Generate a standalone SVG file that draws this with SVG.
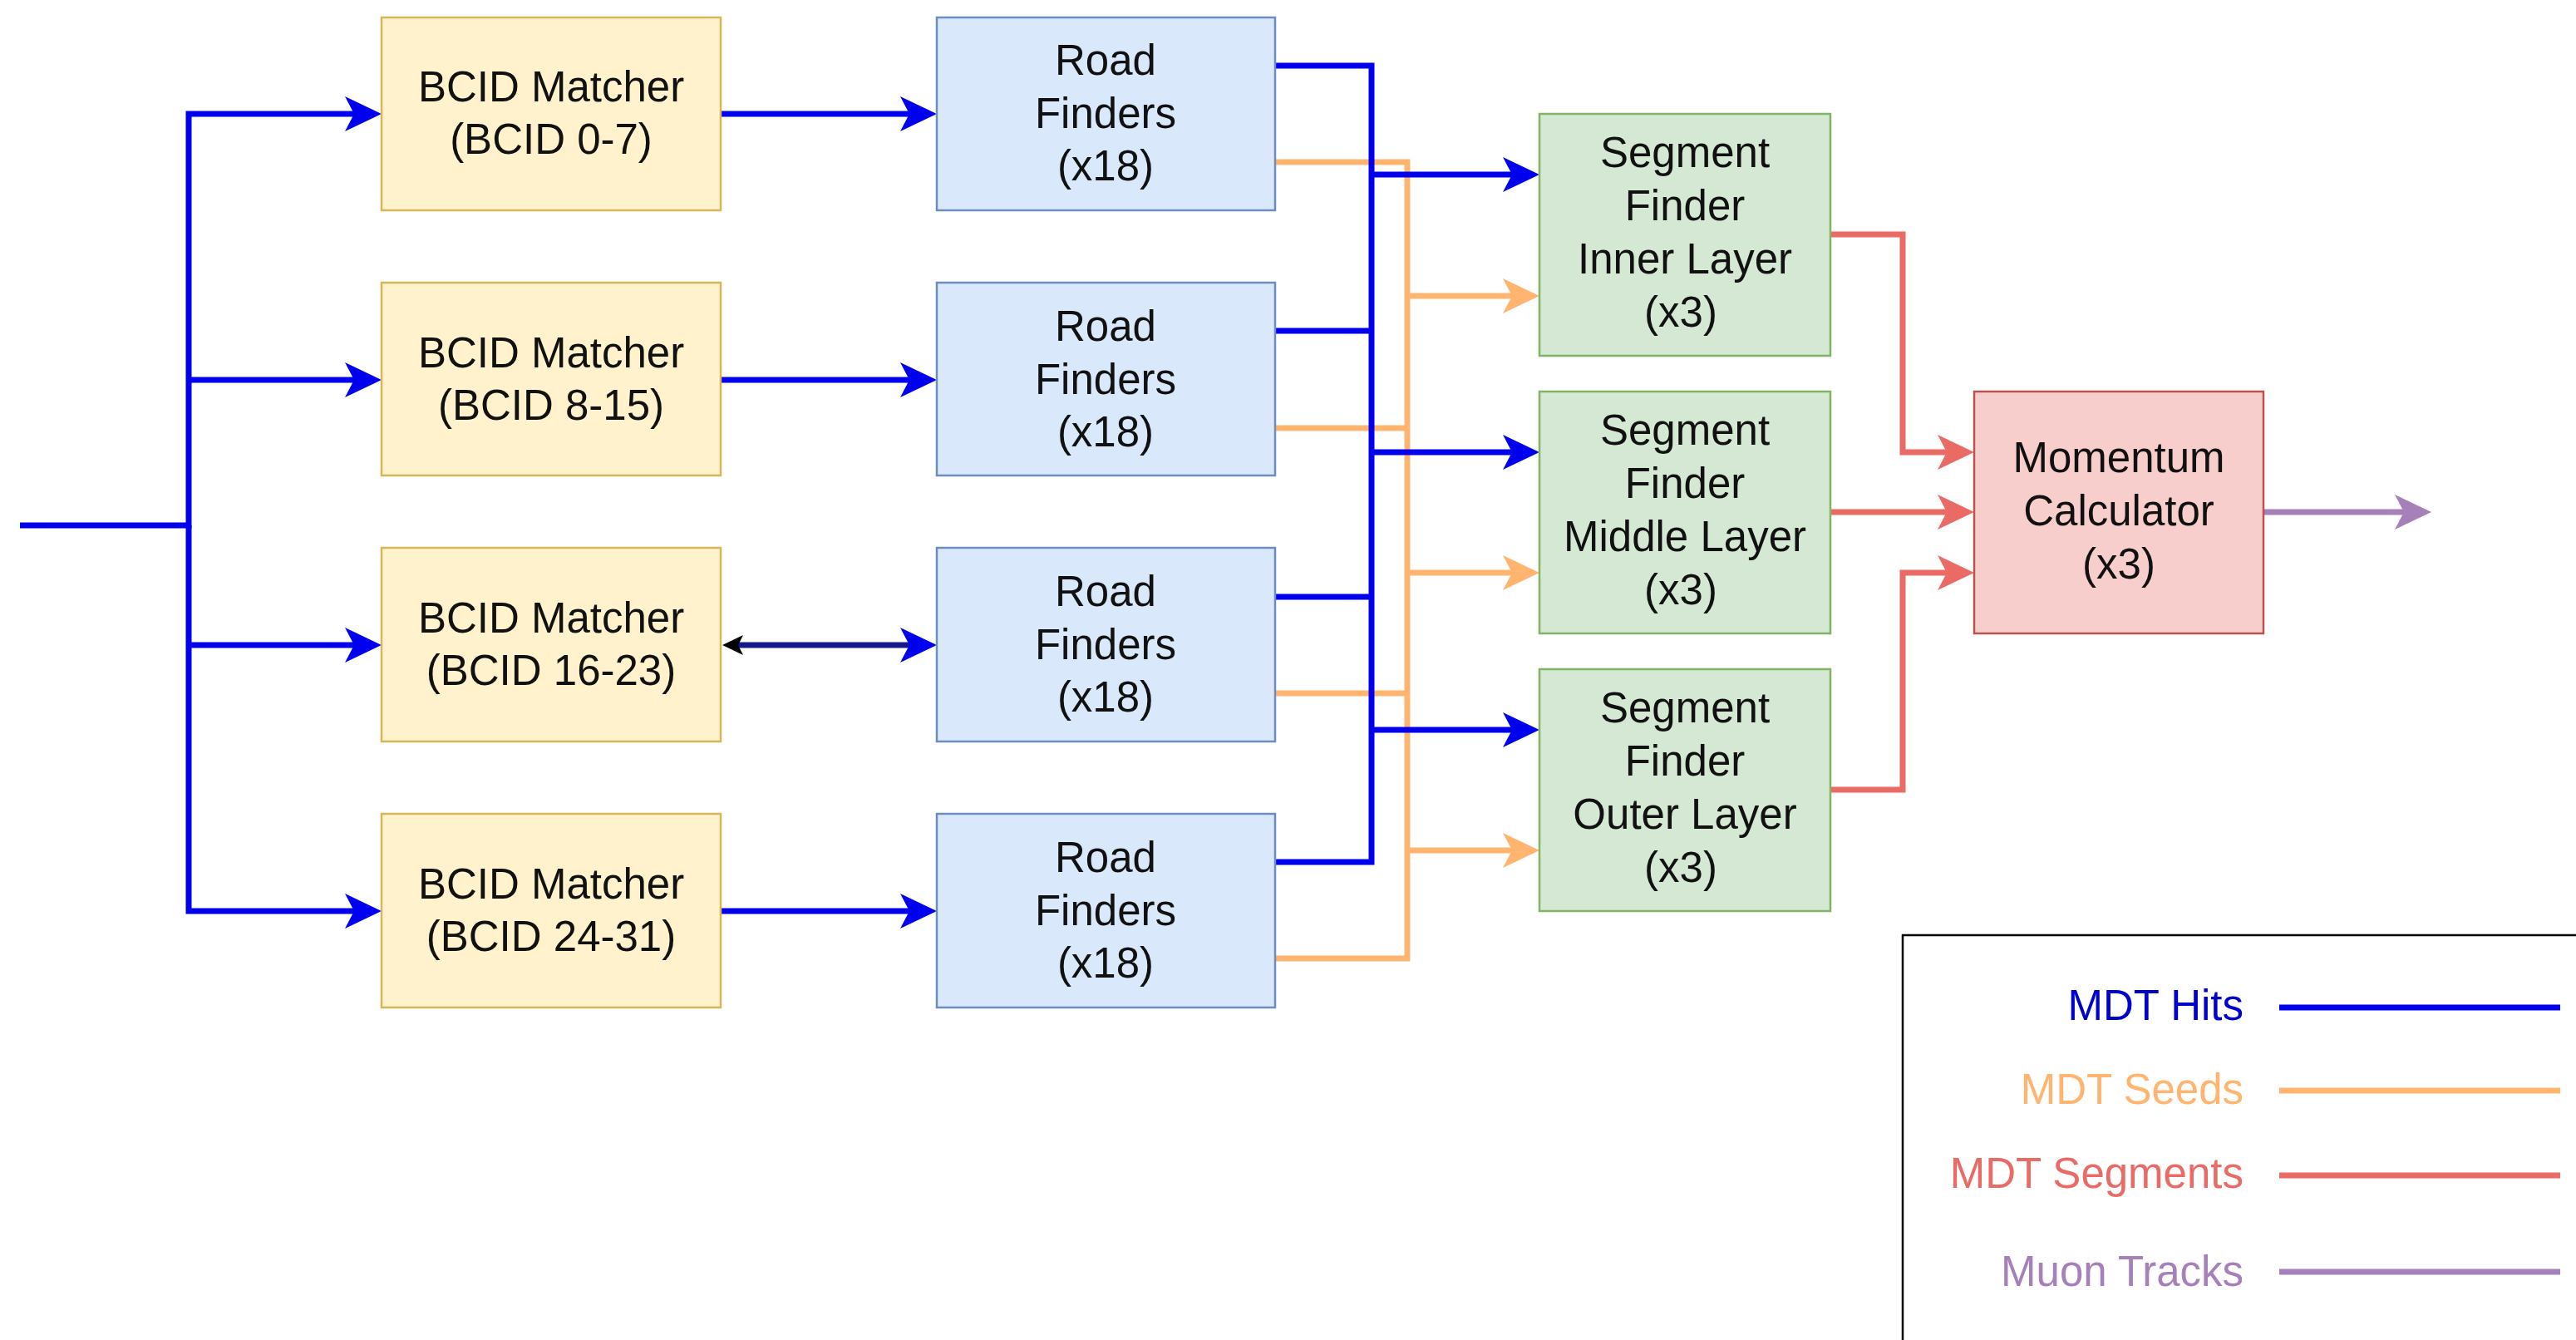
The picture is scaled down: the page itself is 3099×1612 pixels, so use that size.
<svg xmlns="http://www.w3.org/2000/svg" width="3099" height="1612" viewBox="0 0 3099 1612">
<style>
.t{font-family:"Liberation Sans",Arial,sans-serif;font-size:51px;fill:#111;text-anchor:middle}
.lt{font-family:"Liberation Sans",Arial,sans-serif;font-size:51px;text-anchor:end}
.c{fill:none;stroke-width:7;stroke-linejoin:miter;stroke-linecap:butt}
.b{stroke:#0000EE}.o{stroke:#FFB570}.r{stroke:#EA6B66}.p{stroke:#A680B8}
.bcid{fill:#FFF2CC;stroke:#D6B656;stroke-width:2.5}
.rf{fill:#DAE8FC;stroke:#6C8EBF;stroke-width:2.5}
.sf{fill:#D5E8D4;stroke:#82B366;stroke-width:2.5}
.mc{fill:#F8CECC;stroke:#B85450;stroke-width:2.5}
</style>
<defs>
<marker id="aB" markerUnits="userSpaceOnUse" markerWidth="46" markerHeight="46" viewBox="0 -23 46 46" refX="11" refY="0" orient="auto"><path d="M0,-21 L44,0 L0,21 L11,0 Z" fill="#0000EE"/></marker>
<marker id="aO" markerUnits="userSpaceOnUse" markerWidth="46" markerHeight="46" viewBox="0 -23 46 46" refX="11" refY="0" orient="auto"><path d="M0,-21 L44,0 L0,21 L11,0 Z" fill="#FFB570"/></marker>
<marker id="aR" markerUnits="userSpaceOnUse" markerWidth="46" markerHeight="46" viewBox="0 -23 46 46" refX="11" refY="0" orient="auto"><path d="M0,-21 L44,0 L0,21 L11,0 Z" fill="#EA6B66"/></marker>
<marker id="aP" markerUnits="userSpaceOnUse" markerWidth="46" markerHeight="46" viewBox="0 -23 46 46" refX="11" refY="0" orient="auto"><path d="M0,-21 L44,0 L0,21 L11,0 Z" fill="#A680B8"/></marker>
</defs>
<rect width="3099" height="1612" fill="#fff"/>

<g id="connectors">
<!-- input bus -->
<path class="c b" d="M24,632 H227 V137 H426" marker-end="url(#aB)"/>
<path class="c b" d="M227,632 V1096 H426" marker-end="url(#aB)"/>
<path class="c b" d="M227,457 H426" marker-end="url(#aB)"/>
<path class="c b" d="M227,776 H426" marker-end="url(#aB)"/>
<!-- BCID to RF -->
<path class="c b" d="M867,137 H1094" marker-end="url(#aB)"/>
<path class="c b" d="M867,457 H1094" marker-end="url(#aB)"/>
<path class="c b" d="M867,1096 H1094" marker-end="url(#aB)"/>
<path class="c" stroke="#18188C" d="M886,776 H1094" marker-end="url(#aB)"/>
<polygon points="869,776 894,764 888,776 894,788" fill="#000"/>
<!-- seeds (orange) -->
<path class="c o" d="M1534,195 H1693 V1153 H1534"/>
<path class="c o" d="M1534,515 H1693"/>
<path class="c o" d="M1534,834 H1693"/>
<path class="c o" d="M1693,356 H1819" marker-end="url(#aO)"/>
<path class="c o" d="M1693,689 H1819" marker-end="url(#aO)"/>
<path class="c o" d="M1693,1023 H1819" marker-end="url(#aO)"/>
<!-- hits (blue) from RF -->
<path class="c b" d="M1534,79 H1650 V1037 H1534"/>
<path class="c b" d="M1534,398 H1650"/>
<path class="c b" d="M1534,718 H1650"/>
<path class="c b" d="M1650,210 H1819" marker-end="url(#aB)"/>
<path class="c b" d="M1650,544 H1819" marker-end="url(#aB)"/>
<path class="c b" d="M1650,878 H1819" marker-end="url(#aB)"/>
<!-- segments (red) -->
<path class="c r" d="M2202,282 H2289 V544 H2342" marker-end="url(#aR)"/>
<path class="c r" d="M2202,616 H2342" marker-end="url(#aR)"/>
<path class="c r" d="M2202,950 H2289 V689 H2342" marker-end="url(#aR)"/>
<!-- tracks (purple) -->
<path class="c p" d="M2723,616 H2892" marker-end="url(#aP)"/>
</g>

<g id="bcid0">
<rect class="bcid" x="459" y="21" width="408" height="232"/>
<text class="t" x="663" y="122">BCID Matcher</text>
<text class="t" x="663" y="185">(BCID 0-7)</text>
</g>
<g id="bcid1">
<rect class="bcid" x="459" y="340" width="408" height="232"/>
<text class="t" x="663" y="442">BCID Matcher</text>
<text class="t" x="663" y="505">(BCID 8-15)</text>
</g>
<g id="bcid2">
<rect class="bcid" x="459" y="659" width="408" height="233"/>
<text class="t" x="663" y="761">BCID Matcher</text>
<text class="t" x="663" y="824">(BCID 16-23)</text>
</g>
<g id="bcid3">
<rect class="bcid" x="459" y="979" width="408" height="233"/>
<text class="t" x="663" y="1081">BCID Matcher</text>
<text class="t" x="663" y="1144">(BCID 24-31)</text>
</g>

<g id="rf0">
<rect class="rf" x="1127" y="21" width="407" height="232"/>
<text class="t" x="1330" y="90">Road</text>
<text class="t" x="1330" y="154">Finders</text>
<text class="t" x="1330" y="217">(x18)</text>
</g>
<g id="rf1">
<rect class="rf" x="1127" y="340" width="407" height="232"/>
<text class="t" x="1330" y="410">Road</text>
<text class="t" x="1330" y="474">Finders</text>
<text class="t" x="1330" y="537">(x18)</text>
</g>
<g id="rf2">
<rect class="rf" x="1127" y="659" width="407" height="233"/>
<text class="t" x="1330" y="729">Road</text>
<text class="t" x="1330" y="793">Finders</text>
<text class="t" x="1330" y="856">(x18)</text>
</g>
<g id="rf3">
<rect class="rf" x="1127" y="979" width="407" height="233"/>
<text class="t" x="1330" y="1049">Road</text>
<text class="t" x="1330" y="1113">Finders</text>
<text class="t" x="1330" y="1176">(x18)</text>
</g>

<g id="sf-inner">
<rect class="sf" x="1852" y="137" width="350" height="291"/>
<text class="t" x="2027" y="201">Segment</text>
<text class="t" x="2027" y="265">Finder</text>
<text class="t" x="2027" y="329">Inner Layer</text>
<text class="t" x="2022" y="393">(x3)</text>
</g>
<g id="sf-middle">
<rect class="sf" x="1852" y="471" width="350" height="291"/>
<text class="t" x="2027" y="535">Segment</text>
<text class="t" x="2027" y="599">Finder</text>
<text class="t" x="2027" y="663">Middle Layer</text>
<text class="t" x="2022" y="727">(x3)</text>
</g>
<g id="sf-outer">
<rect class="sf" x="1852" y="805" width="350" height="291"/>
<text class="t" x="2027" y="869">Segment</text>
<text class="t" x="2027" y="933">Finder</text>
<text class="t" x="2027" y="997">Outer Layer</text>
<text class="t" x="2022" y="1061">(x3)</text>
</g>

<g id="momentum">
<rect class="mc" x="2375" y="471" width="348" height="291"/>
<text class="t" x="2549" y="568">Momentum</text>
<text class="t" x="2549" y="632">Calculator</text>
<text class="t" x="2549" y="696">(x3)</text>
</g>

<g id="legend">
<rect x="2289" y="1125" width="840" height="520" fill="#fff" stroke="#000" stroke-width="2.5"/>
<text class="lt" x="2699" y="1227" fill="#0000CC">MDT Hits</text>
<line class="c b" x1="2742" y1="1212" x2="3080" y2="1212"/>
<text class="lt" x="2699" y="1328" fill="#FFB570">MDT Seeds</text>
<line class="c o" x1="2742" y1="1312" x2="3080" y2="1312"/>
<text class="lt" x="2699" y="1429" fill="#EA6B66">MDT Segments</text>
<line class="c r" x1="2742" y1="1414" x2="3080" y2="1414"/>
<text class="lt" x="2699" y="1547" fill="#A680B8">Muon Tracks</text>
<line class="c p" x1="2742" y1="1530" x2="3080" y2="1530"/>
</g>
</svg>
